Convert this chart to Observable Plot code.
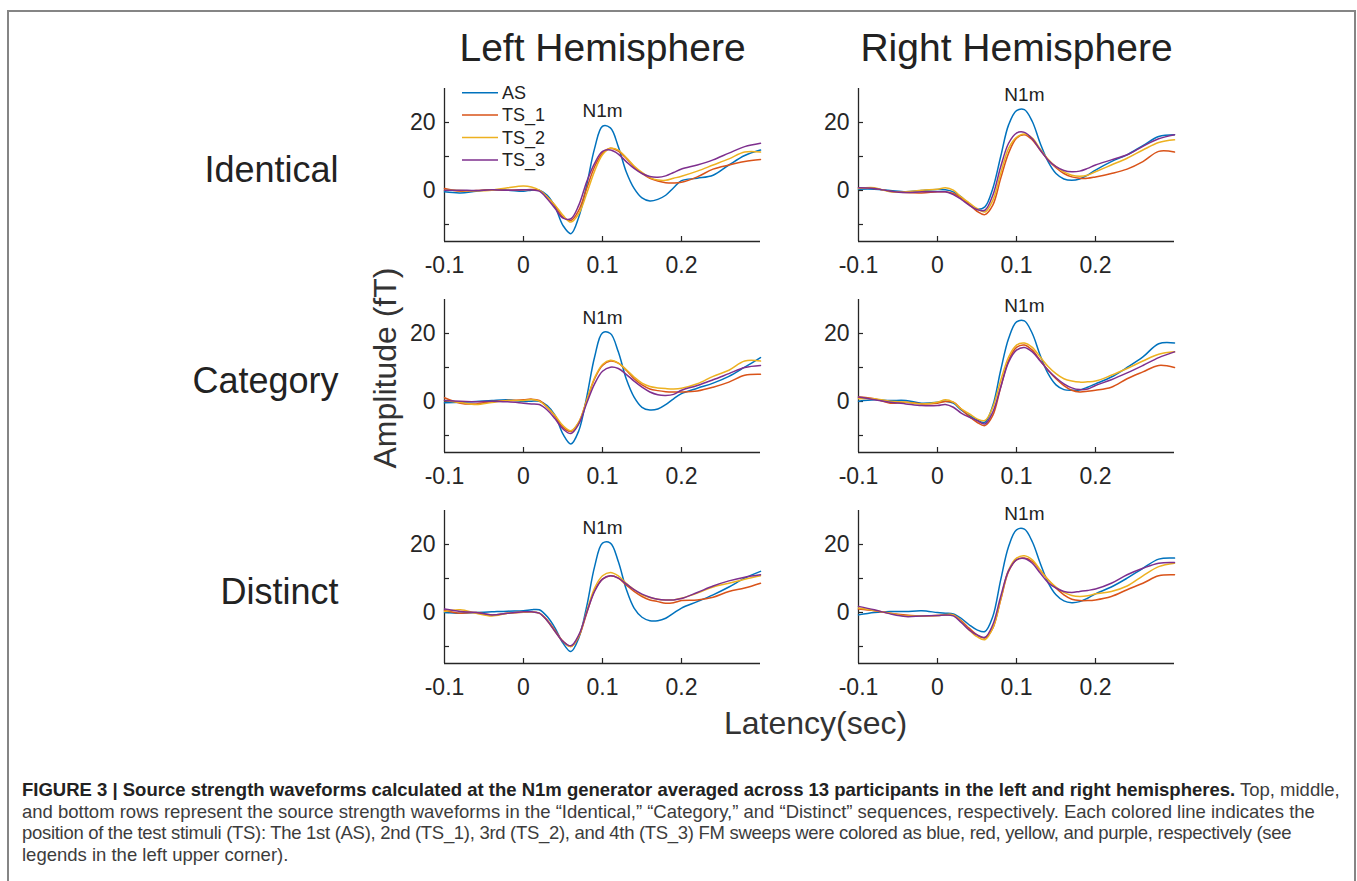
<!DOCTYPE html>
<html>
<head>
<meta charset="utf-8">
<script src="https://cdn.jsdelivr.net/npm/d3@7"></script>
<script src="https://cdn.jsdelivr.net/npm/@observablehq/plot@0.6"></script>
<style>
html, body { margin: 0; padding: 0; background: #fff; }
body { width: 1357px; height: 881px; position: relative; overflow: hidden; font-family: "Liberation Sans", Arial, sans-serif; }
#frame { position: absolute; left: 7px; top: 10px; width: 1349px; height: 900px; border: 2px solid #858585; border-bottom: none; box-sizing: border-box; }
#chart { position: absolute; left: 0; top: 0; }
#legend { position: absolute; left: 0; top: 0; }
#caption { position: absolute; left: 22px; top: 779px; font-size: 18.5px; line-height: 21.5px; color: #3c3c3c; white-space: nowrap; }
#caption b { color: #222; }
#caption .tight { letter-spacing: -0.3px; }
</style>
</head>
<body>
<div id="frame"></div>
<div id="chart"></div>
<div id="caption"><b>FIGURE 3 | Source strength waveforms calculated at the N1m generator averaged across 13 participants in the left and right hemispheres.</b> Top, middle,<br>and bottom rows represent the source strength waveforms in the “Identical,” “Category,” and “Distinct” sequences, respectively. Each colored line indicates the<br><span class="tight">position of the test stimuli (TS): The 1st (AS), 2nd (TS_1), 3rd (TS_2), and 4th (TS_3) FM sweeps were colored as blue, red, yellow, and purple, respectively (see</span><br>legends in the left upper corner).</div>
<script>
// ---- categories ----
const hemispheres = ["Left", "Right"];
const conditions = ["Identical", "Category", "Distinct"];
const seriesNames = ["AS", "TS_1", "TS_2", "TS_3"];
const seriesColors = ["#0072BD", "#D95319", "#EDB120", "#7E2F8E"];

// ---- tick values ----
const xTicks = [-0.1, 0, 0.1, 0.2];
const yTicks = [-10, 0, 10, 20];
const yTickLabels = [0, 20];

// ---- latency samples (s) ----
const latency = [-0.1, -0.08, -0.06, -0.04, -0.02,
  0, 0.01, 0.02, 0.03, 0.04, 0.05, 0.06, 0.07, 0.08, 0.09, 0.1,
  0.11, 0.12, 0.13, 0.14, 0.15, 0.16, 0.17, 0.18, 0.19, 0.2,
  0.22, 0.24, 0.26, 0.28, 0.3];

// ---- amplitudes (fT) ----
const leftIdenticalAS  = [-0.4,-0.7,-0.2,0.2,0.1, -0.2,0.1,0.1,-1.4,-4.8,-10.3,-12.7,-7.8,1.6,12.4,18.9,18.4,12.9,5.5,0.6,-2.2,-3.1,-2.6,-1.4,0.8,2.9, 3.6,4.5,7.5,10.3,11.9];
const leftIdenticalTS1 = [0.6,-0.2,0,0.2,0.1, 0.2,0.3,0,-1.9,-4.5,-7.8,-8.8,-5.8,0.6,7,11,12.4,11.6,9.5,7,5,3.6,2.8,2.3,2.2,2.4, 4,6.3,7.5,8.5,9.1];
const leftIdenticalTS2 = [0.1,0,-0.1,0.1,0.8, 1.3,1,0.1,-1.9,-4.3,-7.3,-9.3,-6.8,-0.9,5.7,10.5,12.4,11.9,9.7,7.2,5.3,3.8,3.1,3,3.6,4.2, 5.7,7.5,9.3,11.3,11.3];
const leftIdenticalTS3 = [0.1,0.1,0,0.2,0.1, 0.2,0.2,-0.2,-2.4,-5.3,-8.1,-8.3,-4.3,2.6,8,11.5,11.9,10.7,8.5,6.5,5,4.1,3.9,4.3,5.3,6.3, 7.5,9,11,12.9,13.9];

const rightIdenticalAS  = [0.4,0.4,0,-0.4,0, 0.3,0.2,-0.4,-1.9,-4.1,-5.5,-4.8,0.6,10,19.3,23.5,23.8,20.3,13.9,8.5,5,3.4,3,3.4,4.5,6, 8.5,10.5,13.2,15.9,16.4];
const rightIdenticalTS1 = [0.8,0.6,-0.2,-0.6,-0.7, -0.4,-0.4,-0.9,-2.2,-4.1,-6.1,-7.1,-4.3,3.6,11,15.4,16.4,14.9,11.9,9,6.7,5,4,3.6,3.6,4, 5,6.3,8.5,11.5,11.3];
const rightIdenticalTS2 = [0.6,0.8,-0.4,-0.4,0.1, 0.4,0.8,0.1,-1.9,-3.6,-5.3,-6.3,-2.9,5,12.4,15.6,16.6,15.4,12.2,9.2,7,5.5,4.5,4.2,4.5,5.5, 7.5,9.5,11.9,14.1,14.9];
const rightIdenticalTS3 = [0.8,0.6,-0.2,-0.6,-0.4, -0.4,-0.4,-1.2,-2.6,-4.3,-5.6,-5.8,-1.4,7,13.9,16.9,17.1,15.2,11.9,9,7,5.9,5.5,5.7,6.5,7.5, 9,10.5,13,15.2,16.4];

const leftCategoryAS  = [-0.4,-0.2,0,0.3,0.5, 0,0.1,0.1,-1.2,-4.1,-9.6,-12.5,-8.6,1.3,13.1,20.2,20,14.6,6.7,1.3,-1.7,-2.5,-2.2,-0.9,0.8,2.3, 3.9,5.4,7.4,10.1,12.9];
const leftCategoryTS1 = [1.1,-0.5,-0.7,0,0.3, 0.5,0.7,0.3,-1.7,-4.4,-7.6,-8.8,-6.1,0.3,6.7,10.6,11.9,11.3,9.2,6.7,4.9,3.7,3.2,2.9,2.8,2.8, 3.1,4.2,5.7,7.7,8];
const leftCategoryTS2 = [0.3,-0.3,-0.9,-0.3,0.3, 0.3,0.6,0.1,-1.7,-4.1,-7.1,-8.6,-6.1,0.3,7,10.9,12.1,11.3,9.4,7.2,5.4,4.4,4,3.8,3.7,3.9, 5.2,7.4,9.2,11.9,11.9];
const leftCategoryTS3 = [0.3,0.1,-0.1,0.1,-0.1, -0.5,-0.7,-0.9,-2.5,-5.1,-8.1,-9.4,-6.6,-0.5,5.2,8.9,10.1,9.7,8,6,4.2,2.8,2,1.8,2.1,3.3, 4.7,6.4,8.2,10,10.6];

const rightCategoryAS  = [0.1,0.5,0.3,0.3,-0.5, -0.2,0.1,-0.5,-2.5,-4.1,-5.4,-6.1,-1.2,9.2,18.5,23.4,23.7,20,13.6,8.2,4.9,3.5,3.3,3.4,4.2,5.2, 7.2,10,13.1,17,17.2];
const rightCategoryTS1 = [1.3,0.8,-0.5,-0.2,-0.7, -0.5,0,-0.2,-2.2,-4.4,-6.1,-7.1,-4.1,4.2,12.1,15.9,16.6,15.1,12.1,9.2,6.7,4.7,3.3,2.8,3,3.3, 4.2,6.7,8.7,10.6,10];
const rightCategoryTS2 = [0.8,0.8,0.1,-0.2,-0.7, -0.2,0.5,-0.2,-2.2,-3.6,-5.1,-5.6,-1.7,6.2,13.1,16.6,17.2,15.9,13.1,10.3,8.2,6.7,6,5.7,5.8,6, 7.7,9.7,11.9,13.9,14.6];
const rightCategoryTS3 = [1.3,0.5,-0.2,-0.7,-1.2, -1.2,-0.9,-1.7,-3.4,-4.6,-5.6,-6.6,-3.1,4.2,11.6,15.1,15.9,14.6,11.9,9.2,7,5.2,4,3.5,3.7,4.7, 6.4,8.4,10.6,12.9,14.6];

const leftDistinctAS  = [0,-0.2,0,0.2,0.4, 0.5,0.8,0.8,-1.2,-4.6,-9,-11.5,-7.5,1.8,13.5,20.4,20.4,15,6.9,1.3,-1.4,-2.4,-2.4,-1.7,-0.2,1.3, 3.2,5.2,7.5,10.1,12.1];
const leftDistinctTS1 = [0.6,-0.2,0,-0.7,-0.2, 0.1,0.2,-0.2,-2.2,-5.3,-8.5,-10,-7.1,-0.2,6.5,9.8,10.8,10.1,8.1,6.2,4.7,3.7,3.2,2.7,2.9,3.5, 3.7,4.5,6.2,7.2,8.6];
const leftDistinctTS2 = [0.3,0.8,-0.2,-1,-0.2, 0.1,0.2,-0.2,-2.4,-5.6,-8.5,-10,-6.9,0.3,7.2,10.8,11.8,10.8,8.6,6.7,5.2,4.4,3.9,3.7,3.7,4.2, 5.7,7.5,8.6,9.8,10.8];
const leftDistinctTS3 = [1,0.3,0,-0.7,-0.2, 0.2,0.2,-0.2,-2.4,-5.6,-8.5,-9.8,-6.6,0,6.2,9.8,10.8,10.1,8.4,6.7,5.4,4.5,3.9,3.7,3.7,4.1, 5.9,7.8,9.3,10.4,11.1];

const rightDistinctAS  = [-0.7,0,0.3,0.3,0.5, 0,-0.2,-0.4,-1.7,-3.6,-5.1,-5.6,-1.2,9.6,19.4,24.3,24.5,20.8,14.5,8.8,5.2,3.4,2.9,3.2,4.2,5.5, 7.5,10.1,13,15.7,16];
const rightDistinctTS1 = [1,0.5,-0.2,-0.7,-1, -0.9,-0.7,-0.7,-2.4,-4.6,-6.6,-7.5,-4.6,3.7,12.1,15.5,16,15,12.4,9.6,7.2,5.2,3.9,3.5,3.5,3.7, 4.7,6.7,8.6,10.8,11.1];
const rightDistinctTS2 = [1.3,0.6,-0.2,-1,-1, -0.9,-0.6,-0.7,-2.6,-5.1,-7.1,-8,-4.6,3.9,12.5,16,16.7,15.5,12.5,9.6,7.5,5.9,5,4.7,4.9,5.5, 6.2,7.8,10.8,13.5,14.5];
const rightDistinctTS3 = [1.8,0.8,-0.4,-1.2,-1, -0.9,-0.7,-1,-2.9,-5.1,-6.6,-7.3,-3.6,4.7,12.3,15.5,15.9,14.5,11.6,8.8,7.2,6.2,5.9,6.2,6.5,6.9, 8.6,11.1,13,14.5,14.7];

// ---- build long table ----
const panels = [
  ["Left", "Identical", [leftIdenticalAS, leftIdenticalTS1, leftIdenticalTS2, leftIdenticalTS3]],
  ["Right", "Identical", [rightIdenticalAS, rightIdenticalTS1, rightIdenticalTS2, rightIdenticalTS3]],
  ["Left", "Category", [leftCategoryAS, leftCategoryTS1, leftCategoryTS2, leftCategoryTS3]],
  ["Right", "Category", [rightCategoryAS, rightCategoryTS1, rightCategoryTS2, rightCategoryTS3]],
  ["Left", "Distinct", [leftDistinctAS, leftDistinctTS1, leftDistinctTS2, leftDistinctTS3]],
  ["Right", "Distinct", [rightDistinctAS, rightDistinctTS1, rightDistinctTS2, rightDistinctTS3]]
];
const table = [];
for (const [hemisphere, condition, arrays] of panels) {
  arrays.forEach((vals, si) => {
    vals.forEach((v, i) => table.push({hemisphere, condition, series: seriesNames[si], t: latency[i], v}));
  });
}

const FONT = '"Liberation Sans", Arial, Helvetica, sans-serif';
const AX = "#262626";
const fmt = d => d === 0 ? "0" : d.toFixed(1);

const chart = Plot.plot({
  width: 1357,
  height: 760,
  marginLeft: 444,
  marginRight: 183,
  marginTop: 87,
  marginBottom: 97,
  style: {fontFamily: FONT, color: AX, background: "transparent", overflow: "visible"},
  x: {domain: [-0.1, 0.3]},
  y: {domain: [-15, 30]},
  fx: {domain: hemispheres, paddingInner: 0.237, paddingOuter: 0, axis: null, label: null},
  fy: {domain: conditions, paddingInner: 0.275, paddingOuter: 0, axis: null, label: null},
  color: {domain: seriesNames, range: seriesColors},
  marks: [
    Plot.ruleX([-0.1], {stroke: AX, strokeWidth: 1.3}),
    Plot.ruleY([-15], {stroke: AX, strokeWidth: 1.3}),
    Plot.tickX(xTicks.slice(1), {x: d => d, stroke: AX, strokeWidth: 1.2, insetTop: 148}),
    Plot.tickY(yTicks, {y: d => d, stroke: AX, strokeWidth: 1.2, insetRight: 311}),
    Plot.axisX({ticks: xTicks, tickFormat: fmt, tickSize: 0, tickPadding: 15, fontSize: 23, facetAnchor: null, label: null, fill: AX}),
    Plot.axisY({ticks: yTickLabels, tickSize: 0, tickPadding: 9, fontSize: 23, facetAnchor: null, label: null, fill: AX}),
    Plot.line(table, {x: "t", y: "v", z: "series", stroke: "series", fx: "hemisphere", fy: "condition", curve: "catmull-rom", strokeWidth: 1.5}),
    Plot.text(table.filter(d => d.series === "AS"), Plot.selectMaxY({x: "t", y: "v", fx: "hemisphere", fy: "condition", text: () => "N1m", dy: -15, fontSize: 19, fill: "#222"})),
    Plot.text(hemispheres, {fx: d => d, fy: () => conditions[0], text: d => d + " Hemisphere", frameAnchor: "top", lineAnchor: "middle", dy: -40, fontSize: 39, fill: "#222"}),
    Plot.text(conditions, {fx: () => hemispheres[0], fy: d => d, text: d => d, frameAnchor: "left", textAnchor: "end", dx: -106, dy: 5, fontSize: 36, fill: "#222"}),
    Plot.text(["Amplitude (fT)"], {fx: () => hemispheres[0], fy: () => conditions[1], text: d => d, frameAnchor: "left", textAnchor: "middle", lineAnchor: "middle", rotate: -90, dx: -59, dy: -8, fontSize: 32, fill: "#333"}),
    Plot.text(["Latency(sec)"], {fx: () => hemispheres[1], fy: () => conditions[2], text: d => d, frameAnchor: "bottom-left", textAnchor: "middle", lineAnchor: "middle", dx: -43, dy: 60, fontSize: 32, fill: "#333"})
  ]
});
document.getElementById("chart").appendChild(chart);

// ---- legend (upper-left panel) ----
const leg = d3.select("body").append("svg")
  .attr("id", "legend")
  .attr("width", 120).attr("height", 100)
  .style("left", "455px").style("top", "80px")
  .style("font-family", FONT);
seriesNames.forEach((s, i) => {
  const y = 12.7 + i * 22.4;
  leg.append("line").attr("x1", 7).attr("x2", 43).attr("y1", y).attr("y2", y)
    .attr("stroke", seriesColors[i]).attr("stroke-width", 1.5);
  leg.append("text").attr("x", 47).attr("y", y).attr("dy", "0.35em")
    .attr("font-size", 18).attr("fill", "#222").text(s);
});
</script>
</body>
</html>
